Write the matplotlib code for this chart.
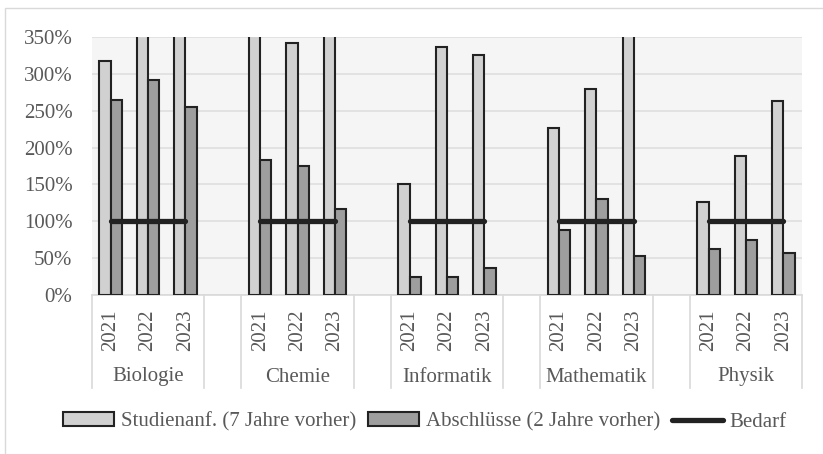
import matplotlib
matplotlib.use("Agg")
import matplotlib.pyplot as plt
import numpy as np
from matplotlib.patches import Patch, Rectangle
from matplotlib.lines import Line2D
import matplotlib.transforms as mtransforms

plt.rcParams['font.family'] = ['Liberation Serif', 'DejaVu Serif']

groups = ["Biologie", "Chemie", "Informatik", "Mathematik", "Physik"]
years = ["2021", "2022", "2023"]
# Studienanf. (7 Jahre vorher), in %  (values above 350 are clipped in the chart)
studienanf = [318, 400, 390,
              420, 342, 380,
              150, 337, 325,
              226, 280, 370,
              126, 189, 263]
# Abschlüsse (2 Jahre vorher), in %
abschluesse = [264, 291, 255,
               183, 175, 116,
               25, 25, 37,
               88, 130, 53,
               63, 74, 57]
bedarf = [100, 100, 100]
yticks = [0, 50, 100, 150, 200, 250, 300, 350]

W, H = 823, 454
fig = plt.figure(figsize=(W / 100, H / 100), dpi=100)
fig.patch.set_facecolor("white")

# outer chart border (only top & left visible)
fig.patches.append(Rectangle((5 / W, -0.1), 1.2, 1 - 8 / H + 0.1, transform=fig.transFigure,
                             fill=False, edgecolor="#d9d9d9", linewidth=1.0))

left, right, top, bottom = 92, 802, 37, 295
ax = fig.add_axes([left / W, 1 - bottom / H, (right - left) / W, (bottom - top) / H])
ax.set_facecolor("#f5f5f5")

gray_text = "#595959"
light = "#d1d1d1"
dark = "#9e9e9e"
edge = "#222222"
bw = 0.3

pos = []
for g in range(len(groups)):
    for j in range(len(years)):
        pos.append(g * 4 + j)
pos = np.array(pos, dtype=float)

ax.bar(pos - bw / 2, studienanf, width=bw, color=light, edgecolor=edge, linewidth=1.5, zorder=3)
ax.bar(pos + bw / 2, abschluesse, width=bw, color=dark, edgecolor=edge, linewidth=1.5, zorder=3)
for g in range(len(groups)):
    ax.plot(pos[g * 3:g * 3 + 3], bedarf, color=edge, linewidth=3.8,
            solid_capstyle="round", zorder=4)

ax.set_xlim(-0.5, 18.5)
ax.set_ylim(0, 350)
ax.set_yticks(yticks)
ax.set_yticklabels([f"{v}%" for v in yticks], fontsize=15, color=gray_text)
ax.tick_params(axis="y", length=0, pad=14)
ax.set_xticks([])
ax.grid(axis="y", color="#e0e0e0", linewidth=1.3, zorder=0)
ax.set_axisbelow(True)
for s in ["left", "right", "top"]:
    ax.spines[s].set_visible(False)
ax.spines["bottom"].set_color("#d9d9d9")
ax.spines["bottom"].set_linewidth(1.2)

trans = mtransforms.blended_transform_factory(ax.transData, ax.transAxes)
ph = bottom - top
# year labels
for p, lab in zip(pos, years * len(groups)):
    ax.text(p, -(330 - bottom) / ph, lab, transform=trans, rotation=90,
            ha="center", va="center", fontsize=15, color=gray_text)
# group labels
for g, name in enumerate(groups):
    ax.text(g * 4 + 1, -(377 - bottom) / ph, name, transform=trans,
            ha="center", va="center", fontsize=15, color=gray_text)
# separators
for xs in [-0.5, 2.5, 3.5, 6.5, 7.5, 10.5, 11.5, 14.5, 15.5, 18.5]:
    ax.add_line(Line2D([xs, xs], [0, -(388 - bottom) / ph], transform=trans,
                       color="#d9d9d9", linewidth=1.2, clip_on=False))

handles = [Patch(facecolor=light, edgecolor=edge, linewidth=1.5),
           Patch(facecolor=dark, edgecolor=edge, linewidth=1.5),
           Line2D([0], [0], color=edge, linewidth=3.8, solid_capstyle="round")]
labels = ["Studienanf. (7 Jahre vorher)", "Abschlüsse (2 Jahre vorher)", "Bedarf"]
leg = fig.legend(handles, labels, loc="center", bbox_to_anchor=(425 / W, 1 - 422 / H),
                 ncol=3, frameon=False, fontsize=15, handlelength=2.45, handleheight=0.65,
                 handletextpad=0.3, columnspacing=0.6, borderpad=0, borderaxespad=0)
for t in leg.get_texts():
    t.set_color(gray_text)

fig.savefig("out.png", dpi=100, facecolor="white")
